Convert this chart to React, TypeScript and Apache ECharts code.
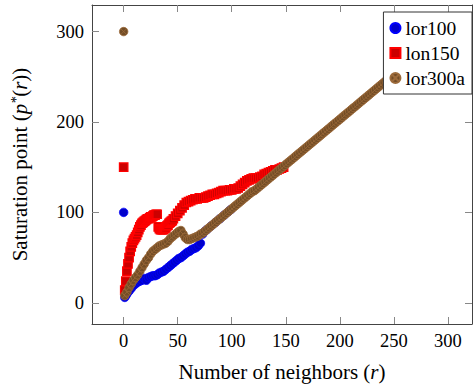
import React, { useEffect, useRef } from "react";
import * as echarts from "echarts";

// ---- data ----
const lor100R = [1, 2, 3, 5, 7, 9, 11, 13, 15, 17, 19, 21, 23, 25, 27, 29, 31, 33, 35, 37, 39, 41, 43, 45, 47, 49, 51, 53, 55, 57, 59, 61, 63, 65, 67, 69, 71, 73, 75, 77, 81, 85, 89, 93, 97, 99];
const lor100P = [6, 8, 10, 13, 16, 19, 21, 23, 24, 25, 27, 25, 28, 29, 30, 30, 31, 33, 34, 35, 37, 39, 41, 43, 45, 47, 49, 50, 52, 54, 56, 57, 59, 60, 61, 63, 66, 76, 79, 81, 85, 89, 93, 97, 101, 103];

const lon150R = [
  1, 2, 3, 4, 5, 6, 7, 8, 9, 10, 11, 12, 13, 14, 15, 16, 17, 18, 19, 20, 21, 22, 23, 24, 25, 26, 27, 28, 29, 30,
  31, 32, 33, 34, 35, 36, 37, 38, 39, 40, 41, 42, 43, 44, 45, 46,
  48, 50, 52, 54, 56, 58, 60, 62, 64, 66, 68, 70, 72, 74, 76, 78, 80, 82, 84, 86, 88, 90, 92, 94, 96, 98, 100,
  102, 104, 106, 108, 110, 112, 114, 116, 118, 120, 122, 124, 126, 128, 130, 132, 134, 136, 138, 140, 142, 144, 146, 148,
];
const lon150P = [
  14, 24, 35, 43, 50, 57, 62, 66, 69, 71, 73, 75, 78, 81, 84, 86, 88, 89, 90, 91, 92, 93, 93, 94, 95, 95, 96, 97, 97, 98,
  98, 84, 82, 81, 81, 81, 81, 82, 83, 85, 86, 88, 89, 90, 91, 93,
  96, 99, 102, 105, 108, 111, 112, 113, 114, 115, 115, 116, 116, 116, 117, 118, 119, 120, 120, 121, 122, 123, 124, 124, 124, 125, 125,
  126, 126, 127, 129, 131, 133, 135, 136, 137, 138, 138, 138, 139, 140, 142, 143, 144, 145, 146, 147, 147, 148, 149, 150,
];

const lor300aR = [
  1, 3, 5, 7, 9, 11, 13, 15, 17, 19, 21, 23, 25, 27, 29, 31, 33, 35, 37, 39, 41, 43, 45, 47, 49, 51, 53, 55, 57, 59, 61, 63, 65, 67, 69, 71,
  73, 75, 77, 79, 81, 83, 85, 87, 89, 91, 93, 95, 97, 99, 101, 103, 105, 107, 109, 111, 113, 115, 117, 119,
  121, 123, 125, 127, 129, 131, 133, 135, 137, 139, 141, 143, 145, 147, 149, 151, 153, 155, 157, 159,
  161, 163, 165, 167, 169, 171, 173, 175, 177, 179, 181, 183, 185, 187, 189, 191, 193, 195, 197, 199,
  201, 203, 205, 207, 209, 211, 213, 215, 217, 219, 221, 223, 225, 227, 229, 231, 233, 235, 237, 239,
  241, 243, 245, 247, 249, 251, 253, 255, 257, 259, 261, 263, 265, 267, 269, 271, 273, 275, 277, 279,
  281, 283, 285, 287, 289, 291, 293,
];
const lor300aP = [
  8, 12, 17, 21, 25, 28, 31, 35, 39, 43, 47, 50, 54, 57, 59, 61, 63, 64, 65, 66, 68, 71, 73, 75, 77, 79, 80, 76, 72, 70, 70, 71, 72, 73, 74, 76,
  77, 79, 81, 83, 85, 87, 89, 91, 93, 95, 97, 99, 101, 103, 105, 107, 109, 111, 113, 115, 117, 119, 121, 123,
  124, 126, 128, 130, 132, 134, 136, 138, 140, 142, 144, 146, 148, 150, 152, 154, 156, 158, 160, 162,
  164, 166, 168, 170, 172, 174, 176, 178, 180, 182, 184, 186, 188, 190, 192, 194, 196, 198, 200, 202,
  204, 206, 208, 210, 212, 214, 216, 218, 220, 222, 224, 226, 228, 230, 232, 234, 236, 238, 240, 242,
  244, 246, 248, 250, 252, 254, 256, 258, 260, 262, 264, 266, 268, 270, 272, 274, 276, 278, 280, 282,
  284, 286, 288, 290, 292, 294, 296,
];

// isolated points at r = 0
const outlierR = [0, 0, 0];
const outlierP = [100, 150, 300];

const xTicks = [0, 50, 100, 150, 200, 250, 300];
const yTicks = [0, 100, 200, 300];

const FONT = "Liberation Serif";
const FS = 18.5;
const NFS = 21;
const LFS = 19.5;
const OTIMES =
  "path://M10,0A10,10,0,1,1,-10,0A10,10,0,1,1,10,0ZM-7.07,-7.07L7.07,7.07M-7.07,7.07L7.07,-7.07";

const zip = (xs: number[], ys: number[]) => xs.map((x, i) => [x, ys[i]]);

export default function App() {
  const ref = useRef<HTMLDivElement>(null);
  useEffect(() => {
    if (!ref.current) return;
    const chart = echarts.init(ref.current, null, { renderer: "svg" });
    const axisLine = { show: true, onZero: false, lineStyle: { color: "#444", width: 1 } };
    const tickStyle = { lineStyle: { color: "#888", width: 1 } };
    const xRange = { min: -29.3, max: 322.3 };
    const yRange = { min: -23.4, max: 329.4 };
    chart.setOption({
      animation: false,
      backgroundColor: "#fff",
      textStyle: { fontFamily: FONT },
      grid: { left: 92, right: 1, top: 5, bottom: 60, containLabel: false },
      xAxis: [
        {
          type: "value",
          position: "bottom",
          ...xRange,
          axisLine,
          splitLine: { show: false },
          axisTick: { show: true, inside: true, length: 7, customValues: xTicks, ...tickStyle },
          axisLabel: { customValues: xTicks, color: "#000", fontFamily: FONT, fontSize: FS, margin: 7 },
          name: "Number of neighbors ({i|r})",
          nameLocation: "middle",
          nameGap: 37,
          nameTextStyle: {
            color: "#000",
            fontFamily: FONT,
            fontSize: NFS,
            rich: { i: { fontStyle: "italic", fontFamily: FONT, fontSize: NFS, color: "#000" } },
          },
        },
        {
          type: "value",
          position: "top",
          ...xRange,
          axisLine,
          splitLine: { show: false },
          axisTick: { show: true, inside: true, length: 7, customValues: xTicks, ...tickStyle },
          axisLabel: { show: false },
        },
      ],
      yAxis: [
        {
          type: "value",
          position: "left",
          ...yRange,
          axisLine,
          splitLine: { show: false },
          axisTick: { show: true, inside: true, length: 7, customValues: yTicks, ...tickStyle },
          axisLabel: { customValues: yTicks, color: "#000", fontFamily: FONT, fontSize: FS, margin: 8 },
          name: "Saturation point ({i|p}{s|*}({i|r}))",
          nameLocation: "middle",
          nameGap: 62,
          nameRotate: 90,
          nameTextStyle: {
            color: "#000",
            fontFamily: FONT,
            fontSize: NFS,
            rich: {
              i: { fontStyle: "italic", fontFamily: FONT, fontSize: NFS, color: "#000" },
              s: { fontStyle: "italic", fontFamily: FONT, fontSize: 14, color: "#000", verticalAlign: "top" },
            },
          },
        },
        {
          type: "value",
          position: "right",
          ...yRange,
          axisLine,
          splitLine: { show: false },
          axisTick: { show: true, inside: true, length: 7, customValues: yTicks, ...tickStyle },
          axisLabel: { show: false },
        },
      ],
      legend: {
        orient: "vertical",
        right: 1,
        top: 12,
        padding: [6, 7, 6, 6],
        itemGap: 5,
        itemWidth: 10,
        itemHeight: 10,
        backgroundColor: "#fff",
        borderColor: "#333",
        borderWidth: 1,
        borderRadius: 0,
        textStyle: { fontFamily: FONT, fontSize: LFS, color: "#000", lineHeight: 20 },
        data: [
          { name: "lor100", icon: "circle" },
          { name: "lon150", icon: "rect" },
          { name: "lor300a", icon: OTIMES },
        ],
      },
      series: [
        {
          name: "lor100",
          type: "scatter",
          symbol: "circle",
          symbolSize: 8.5,
          itemStyle: { color: "#0000CC", borderColor: "#0000FF", borderWidth: 0.8, opacity: 1 },
          data: [...zip(lor100R, lor100P), [outlierR[0], outlierP[0]]],
        },
        {
          name: "lon150",
          type: "scatter",
          symbol: "rect",
          symbolSize: 8.5,
          itemStyle: { color: "#CC0000", borderColor: "#FF0000", borderWidth: 1.2, opacity: 1 },
          data: [...zip(lon150R, lon150P), [outlierR[1], outlierP[1]]],
        },
        {
          name: "lor300a",
          type: "scatter",
          symbol: OTIMES,
          symbolSize: 8.5,
          itemStyle: { color: "#734D26", borderColor: "#9C6A3A", borderWidth: 0.8, opacity: 1 },
          data: [...zip(lor300aR, lor300aP), [outlierR[2], outlierP[2]]],
        },
      ],
    });
    return () => chart.dispose();
  }, []);
  return (
    <div
      ref={ref}
      style={{ position: "absolute", left: 0, top: 0, width: 473, height: 387, background: "#fff" }}
    />
  );
}
